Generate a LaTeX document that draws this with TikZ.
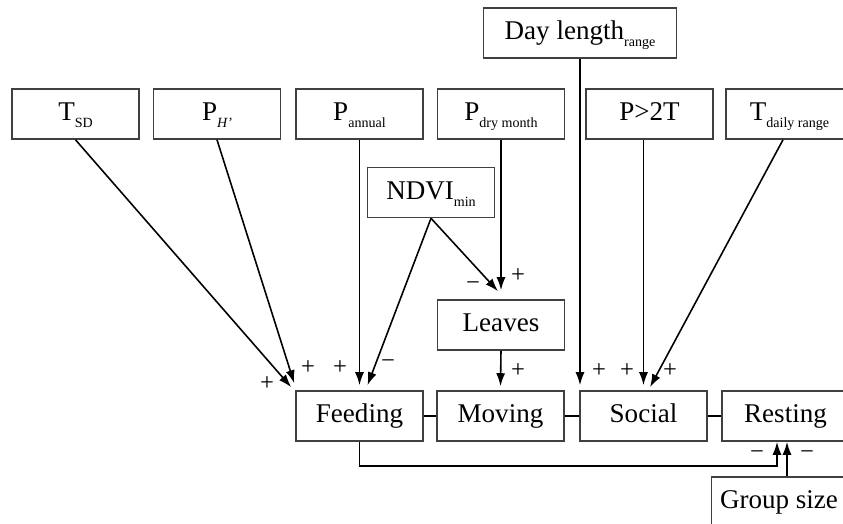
\documentclass[tikz,border=0pt]{standalone}
\usepackage{fontspec}
\setmainfont{Liberation Serif}
\usetikzlibrary{arrows.meta,calc}
\newcommand{\subtxt}[1]{\raisebox{-4pt}{\fontsize{8}{9}\selectfont #1}}
\tikzset{
  box/.style={draw=black!75, line width=0.9pt, minimum width=2.54cm, minimum height=1cm, inner sep=0pt, text height=11pt, text depth=3.5pt, font=\fontsize{15.4}{18}\selectfont},
  arr/.style={line width=0.9pt, -{Latex[length=2.6mm,width=1.8mm]}},
  sign/.style={font=\fontsize{14}{16}\selectfont, inner sep=0pt},
}
\begin{document}
\begin{tikzpicture}[x=0.02cm,y=-0.02cm]
\useasboundingbox (0,0) rectangle (843,524);
% climate boxes
\node[box] (tsd) at (75.5,114) {T\subtxt{SD}};
\node[box] (ph) at (217,114) {P\subtxt{\textit{H'}}};
\node[box] (pann) at (359.5,114) {P\subtxt{annual}};
\node[box] (pdry) at (501,114) {P\subtxt{dry month}};
\node[box] (p2t) at (649.5,114) {P>2T};
\node[box] (tdaily) at (789.5,114) {T\subtxt{daily range}};
\node[box, minimum width=3.86cm] (dayl) at (580,33) {Day length\subtxt{range}};
\node[box] (ndvi) at (431,192.5) {NDVI\subtxt{min}};
\node[box] (leaves) at (501,325) {Leaves};
% activity boxes
\node[box] (feed) at (359.5,416) {Feeding};
\node[box] (move) at (500.5,416) {Moving};
\node[box] (soc) at (643.5,416) {Social};
\node[box] (rest) at (785.5,416) {Resting};
\node[box, minimum width=2.7cm] (grp) at (779,502) {Group size};
\foreach \a/\b in {feed/move,move/soc,soc/rest}
  \draw[line width=0.9pt] (\a.east) -- (\b.west);
% into feeding
\draw[arr] (tsd.south) -- ($(feed.north west)+(-4,-3)$);
\draw[arr] (ph.south) -- ($(feed.north west)+(-1,-7)$);
\draw[arr] (pann.south) -- ($(feed.north)+(0,-5)$);
\draw[arr] (ndvi.south) -- ($(feed.north)+(8,-5)$);
\node[sign] (s1) at (267,384) {+};
\node[sign] (s2) at (308,368) {+};
\node[sign] (s3) at (340,368) {+};
\node[sign] (s4) at (388,364) {\char"2212};
% into leaves
\draw[arr] (ndvi.south) -- ($(leaves.north)+(-3,-8)$);
\draw[arr] (pdry.south) -- ($(leaves.north)+(0,-9)$);
\node[sign] (s5) at (473,286) {\char"2212};
\node[sign] (s6) at (518,276) {+};
% into moving
\draw[arr] (leaves.south) -- ($(move.north)+(0,-4)$);
\node[sign] (s7) at (518,371) {+};
% into social
\draw[arr] (dayl.south) -- ($(dayl.south |- soc.north west)+(0,-5)$);
\draw[arr] (p2t.south -| soc.north) -- ($(soc.north)+(0,-5)$);
\draw[arr] ($(tdaily.south)+(-6.5,0)$) -- ($(soc.north)+(6.5,-3)$);
\node[sign] (s8) at (599,371) {+};
\node[sign] (s9) at (627,371) {+};
\node[sign] (s10) at (670,371) {+};
% into resting
\draw[arr] (feed.south) -- ++(0,24) -| ($(rest.south)+(-8.5,0)$);
\draw[arr] ($(grp.north)+(8,0)$) -- ($(rest.south)+(1.5,0)$);
\node[sign] (s11) at (757,455) {\char"2212};
\node[sign] (s12) at (807,455) {\char"2212};
\end{tikzpicture}
\end{document}
